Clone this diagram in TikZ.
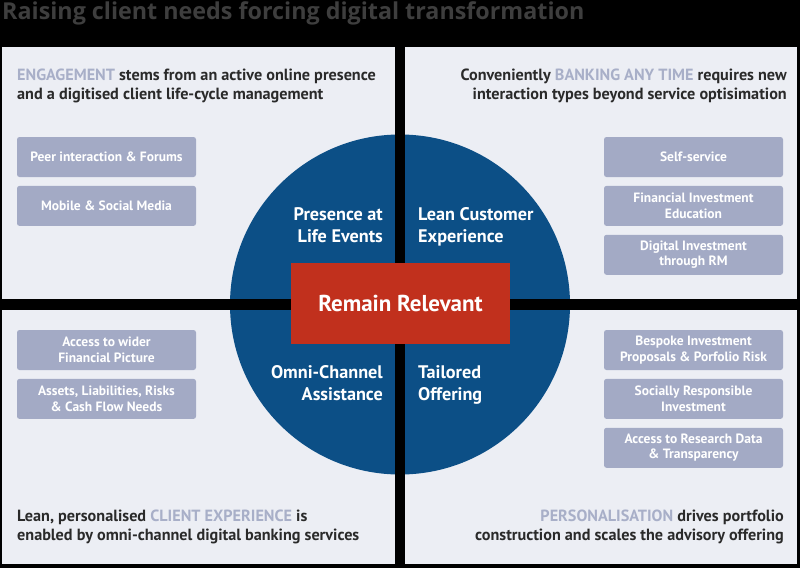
\documentclass[tikz,border=0pt]{standalone}
\usepackage{fontspec}
\setmainfont{PT Sans}
\newfontfamily\titlefont{Open Sans}
\usetikzlibrary{positioning}

\definecolor{panel}{HTML}{ECEEF4}
\definecolor{accent}{HTML}{A8AFC8}
\definecolor{boxfill}{HTML}{A3AAC5}
\definecolor{ink}{HTML}{2A2A2A}
\definecolor{titlegray}{HTML}{3E3E3E}
\definecolor{circleblue}{HTML}{0C4F86}
\definecolor{relred}{HTML}{C1301D}

\tikzset{
  panelbox/.style={fill=panel},
  item/.style={fill=boxfill, rounded corners=2.5pt, minimum width=179pt,
    minimum height=40pt, align=center, text=white, inner sep=0pt,
    font=\bfseries\fontsize{13.5}{15.5}\selectfont},
  lead/.style={inner sep=0pt, text=ink, font=\bfseries\fontsize{16.2}{19}\selectfont},
  core/.style={inner sep=0pt, text=white, font=\bfseries\fontsize{18.2}{22}\selectfont},
}
\newcommand{\hl}[1]{\textcolor{accent}{#1}}

\begin{document}
\begin{tikzpicture}[x=1pt, y=-1pt, node distance=8.5pt]
  \useasboundingbox (0,0) rectangle (800,568);
  \fill[black] (0,0) rectangle (800,568);

  \node[anchor=base west, inner sep=0pt, text=titlegray,
    font=\titlefont\bfseries\fontsize{23.3}{26}\selectfont] (title) at (2,19.5)
    {Raising client needs forcing digital transformation};

  % quadrants
  \fill[panelbox] (2,47) rectangle (395,299);
  \fill[panelbox] (405,47) rectangle (797,299);
  \fill[panelbox] (2,310) rectangle (395,564);
  \fill[panelbox] (405,310) rectangle (797,564);

  % circle and cross
  \fill[circleblue] (400,304.5) circle (170);
  \fill[black] (395,130) rectangle (405,480);
  \fill[black] (225,299) rectangle (575,310);

  \node[fill=relred, minimum width=219pt, minimum height=81pt, text=white,
    font=\bfseries\fontsize{23}{26}\selectfont] (relevant) at (400.5,303.5)
    {Remain Relevant};

  \node[core, align=right, anchor=north east] (presence) at (383,207)
    {Presence at\\Life Events};
  \node[core, align=left, anchor=north west] (leancx) at (418,207)
    {Lean Customer\\Experience};
  \node[core, align=right, anchor=north east] (omni) at (383,365)
    {Omni-Channel\\Assistance};
  \node[core, align=left, anchor=north west] (tailored) at (418,365)
    {Tailored\\Offering};

  % lead texts
  \node[lead, align=left, anchor=north west] (engage) at (17,69.2)
    {\hl{ENGAGEMENT} stems from an active online presence\\
     and a digitised client life-cycle management};
  \node[lead, align=right, anchor=north east] (anytime) at (787,69.2)
    {Conveniently \hl{BANKING ANY TIME} requires new\\
     interaction types beyond service optisimation};
  \node[lead, align=left, anchor=north west] (clientexp) at (17,509.5)
    {Lean, personalised \hl{CLIENT EXPERIENCE} is\\
     enabled by omni-channel digital banking services};
  \node[lead, align=right, anchor=north east] (personal) at (784,509.5)
    {\hl{PERSONALISATION} drives portfolio\\
     construction and scales the advisory offering};

  % boxes
  \node[item] (peer) at (106.5,157) {Peer interaction \& Forums};
  \node[item, below=of peer] (mobile) {Mobile \& Social Media};
  \node[item] (access) at (106.5,350) {Access to wider\\Financial Picture};
  \node[item, below=of access] (assets) {Assets, Liabilities, Risks\\\& Cash Flow Needs};

  \node[item] (selfserv) at (693.5,157) {Self-service};
  \node[item, below=of selfserv] (educ) {Financial Investment\\Education};
  \node[item, below=of educ] (digitrm) {Digital Investment\\through RM};
  \node[item] (bespoke) at (693.5,350) {Bespoke Investment\\Proposals \& Porfolio Risk};
  \node[item, below=of bespoke] (social) {Socially Responsible\\Investment};
  \node[item, below=of social] (research) {Access to Research Data\\\& Transparency};
\end{tikzpicture}
\end{document}
